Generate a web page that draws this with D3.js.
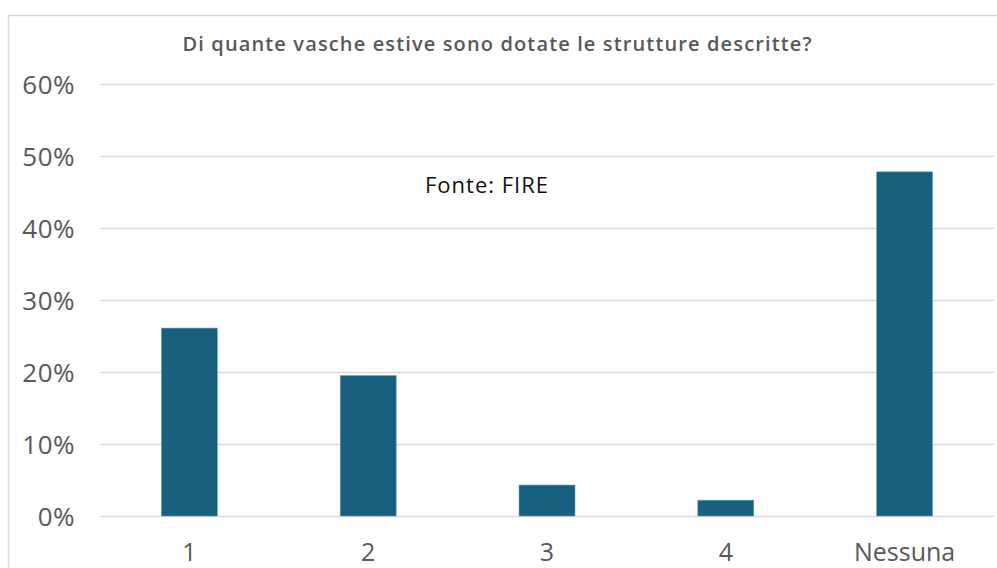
<!DOCTYPE html>
<html>
<head>
<meta charset="utf-8">
<script src="https://cdn.jsdelivr.net/npm/d3@7"></script>
<style>
  html, body { margin: 0; padding: 0; background: #fff; }
  svg { display: block; }
</style>
</head>
<body>
<svg id="chart" width="997" height="568"></svg>
<script>
const categories = ["1", "2", "3", "4", "Nessuna"];
const values = [0.261, 0.195, 0.043, 0.022, 0.478];
const yTicks = [0, 0.1, 0.2, 0.3, 0.4, 0.5, 0.6];
const titleText = "Di quante vasche estive sono dotate le strutture descritte?";
const noteText = "Fonte: FIRE";

const svg = d3.select("#chart");
const W = 997, H = 568;
const margin = { left: 100, right: 3, top: 84, bottom: 52 };

// outer chart border
svg.append("rect")
  .attr("x", 8.5).attr("y", 15.5)
  .attr("width", W + 10).attr("height", H + 10)
  .attr("fill", "#fff").attr("stroke", "#d9d9d9").attr("stroke-width", 1.5);

const x = d3.scaleBand()
  .domain(categories)
  .range([margin.left, W - margin.right])
  .paddingInner(0.687)
  .paddingOuter(0.3435);

const y = d3.scaleLinear()
  .domain([0, 0.6])
  .range([H - margin.bottom, margin.top]);

// gridlines
const yAxis = d3.axisLeft(y)
  .tickValues(yTicks)
  .tickFormat(d3.format(".0%"))
  .tickSize(-(W - margin.right - margin.left))
  .tickPadding(25);

const gy = svg.append("g")
  .attr("transform", `translate(${margin.left},0)`)
  .call(yAxis);
gy.select(".domain").remove();
gy.selectAll(".tick line").attr("stroke", "#d9d9d9").attr("stroke-width", 1.5);
gy.selectAll(".tick text")
  .attr("fill", "#595959")
  .style("font-family", "'Open Sans', sans-serif")
  .style("font-size", "26px")
  .style("letter-spacing", "0.5px")
  .attr("dy", "0.36em");

// bars
svg.append("g").selectAll("rect")
  .data(values)
  .join("rect")
  .attr("x", (d, i) => x(categories[i]))
  .attr("y", d => y(d))
  .attr("width", x.bandwidth())
  .attr("height", d => y(0) - y(d))
  .attr("fill", "#185f80")
  .attr("stroke", "#6f9fb5")
  .attr("stroke-width", 0.6);

// x axis
const xAxis = d3.axisBottom(x).tickSize(0).tickPadding(27);
const gx = svg.append("g")
  .attr("transform", `translate(0,${H - margin.bottom})`)
  .call(xAxis);
gx.select(".domain").remove();
gx.selectAll(".tick text")
  .attr("fill", "#595959")
  .style("font-family", "'Open Sans', sans-serif")
  .style("font-size", "25px")
  .attr("dy", "0.71em");

// title
svg.append("text")
  .attr("x", 497).attr("y", 51)
  .attr("text-anchor", "middle")
  .attr("fill", "#595959")
  .attr("textLength", 629)
  .attr("lengthAdjust", "spacing")
  .style("font-family", "'Open Sans', sans-serif")
  .style("font-weight", "600")
  .style("font-size", "20px")
  .text(titleText);

// source note
svg.append("text")
  .attr("x", 425).attr("y", 193)
  .attr("fill", "#111")
  .attr("textLength", 123)
  .attr("lengthAdjust", "spacing")
  .style("font-family", "'Open Sans', sans-serif")
  .style("font-size", "22px")
  .text(noteText);
</script>
</body>
</html>
